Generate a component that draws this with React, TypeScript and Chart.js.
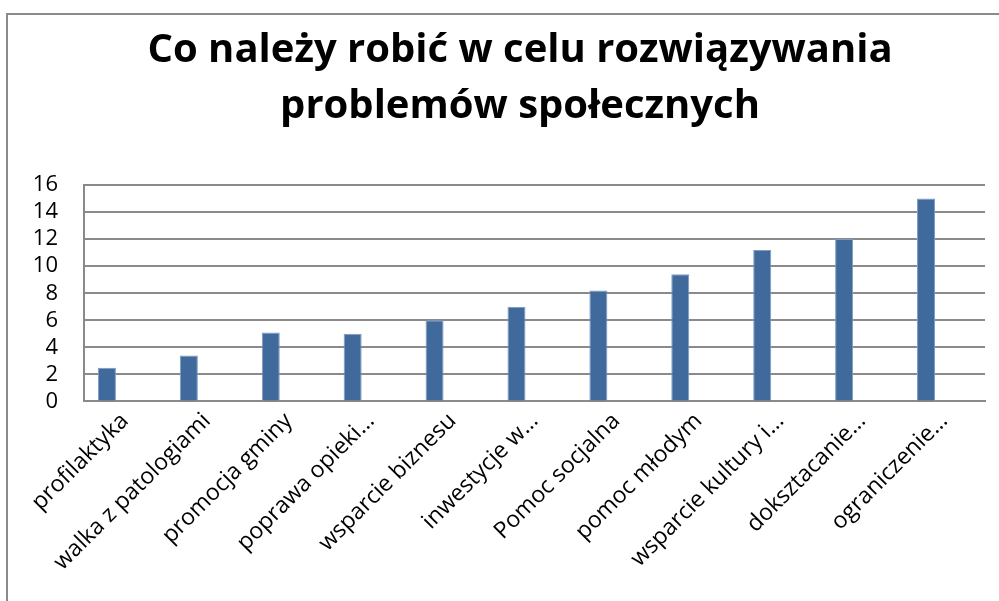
import React, { useEffect, useRef } from "react";
import { Chart, registerables } from "chart.js";

Chart.register(...registerables);

const titleLines = ["Co należy robić w celu rozwiązywania", "problemów społecznych"];

const categories = [
  "profilaktyka",
  "walka z patologiami",
  "promocja gminy",
  "poprawa opieki…",
  "wsparcie biznesu",
  "inwestycje w…",
  "Pomoc socjalna",
  "pomoc młodym",
  "wsparcie kultury i…",
  "doksztacanie…",
  "ograniczenie…",
];

const values = [2.5, 3.4, 5.1, 5.0, 6.0, 7.0, 8.2, 9.4, 11.2, 12.0, 15.0];
// two empty series (as in the source spreadsheet) that reserve space beside each bar
const emptySeriesA = categories.map(() => 0);
const emptySeriesB = categories.map(() => 0);

const yMin = 0;
const yMax = 16;
const yStep = 2;

const FONT = "'Open Sans', sans-serif";
const GRID = "#8a8a8a";

const titlePlugin = {
  id: "manualTitle",
  afterDraw(chart: any) {
    const ctx = chart.ctx;
    ctx.save();
    ctx.fillStyle = "#000";
    ctx.font = `bold 40px ${FONT}`;
    ctx.textAlign = "center";
    ctx.textBaseline = "alphabetic";
    ctx.fillText(titleLines[0], 520, 62);
    ctx.fillText(titleLines[1], 520, 118);
    ctx.restore();
  },
};

export default function App() {
  const canvasRef = useRef<HTMLCanvasElement | null>(null);

  useEffect(() => {
    if (!canvasRef.current) return;
    const chart = new Chart(canvasRef.current, {
      type: "bar",
      data: {
        labels: categories,
        datasets: [
          {
            data: values,
            backgroundColor: "#416a9c",
            borderColor: "#7d9cc4",
            borderWidth: 1,
            categoryPercentage: 0.66,
            barPercentage: 1,
          },
          {
            data: emptySeriesA,
            backgroundColor: "rgba(0,0,0,0)",
            borderWidth: 0,
            categoryPercentage: 0.66,
            barPercentage: 1,
          },
          {
            data: emptySeriesB,
            backgroundColor: "rgba(0,0,0,0)",
            borderWidth: 0,
            categoryPercentage: 0.66,
            barPercentage: 1,
          },
        ],
      },
      plugins: [titlePlugin],
      options: {
        animation: false,
        responsive: false,
        maintainAspectRatio: false,
        events: [],
        layout: { padding: { left: 33, right: 14, top: 185, bottom: 19 } },
        plugins: {
          legend: { display: false },
          tooltip: { enabled: false },
          title: { display: false },
        },
        scales: {
          x: {
            afterFit(scale: any) {
              scale.paddingLeft = 0;
              scale.paddingRight = 0;
            },
            grid: { display: false, drawTicks: false },
            border: { display: true, color: GRID, width: 2 },
            ticks: {
              color: "#000",
              font: { family: FONT, size: 23 },
              minRotation: 45,
              maxRotation: 45,
              autoSkip: false,
              padding: 6,
              labelOffset: 0,
            },
          },
          y: {
            afterFit(scale: any) {
              scale.width = 51;
            },
            min: yMin,
            max: yMax,
            grid: { color: GRID, lineWidth: 2, drawTicks: false },
            border: { display: true, color: GRID, width: 2 },
            ticks: {
              stepSize: yStep,
              autoSkip: false,
              color: "#000",
              font: { family: FONT, size: 22 },
              padding: 26,
            },
          },
        },
      },
    });
    return () => chart.destroy();
  }, []);

  return (
    <div
      style={{
        position: "fixed",
        left: 0,
        top: 0,
        width: 999,
        height: 601,
        overflow: "hidden",
        background: "#fff",
      }}
    >
      <div
        style={{
          position: "absolute",
          left: 6,
          top: 13,
          width: 1200,
          height: 1000,
          borderLeft: "2px solid #8a8a8a",
          borderTop: "2px solid #8a8a8a",
        }}
      />
      <canvas
        ref={canvasRef}
        width={999}
        height={601}
        style={{ position: "absolute", left: 0, top: 0, width: 999, height: 601 }}
      />
    </div>
  );
}
